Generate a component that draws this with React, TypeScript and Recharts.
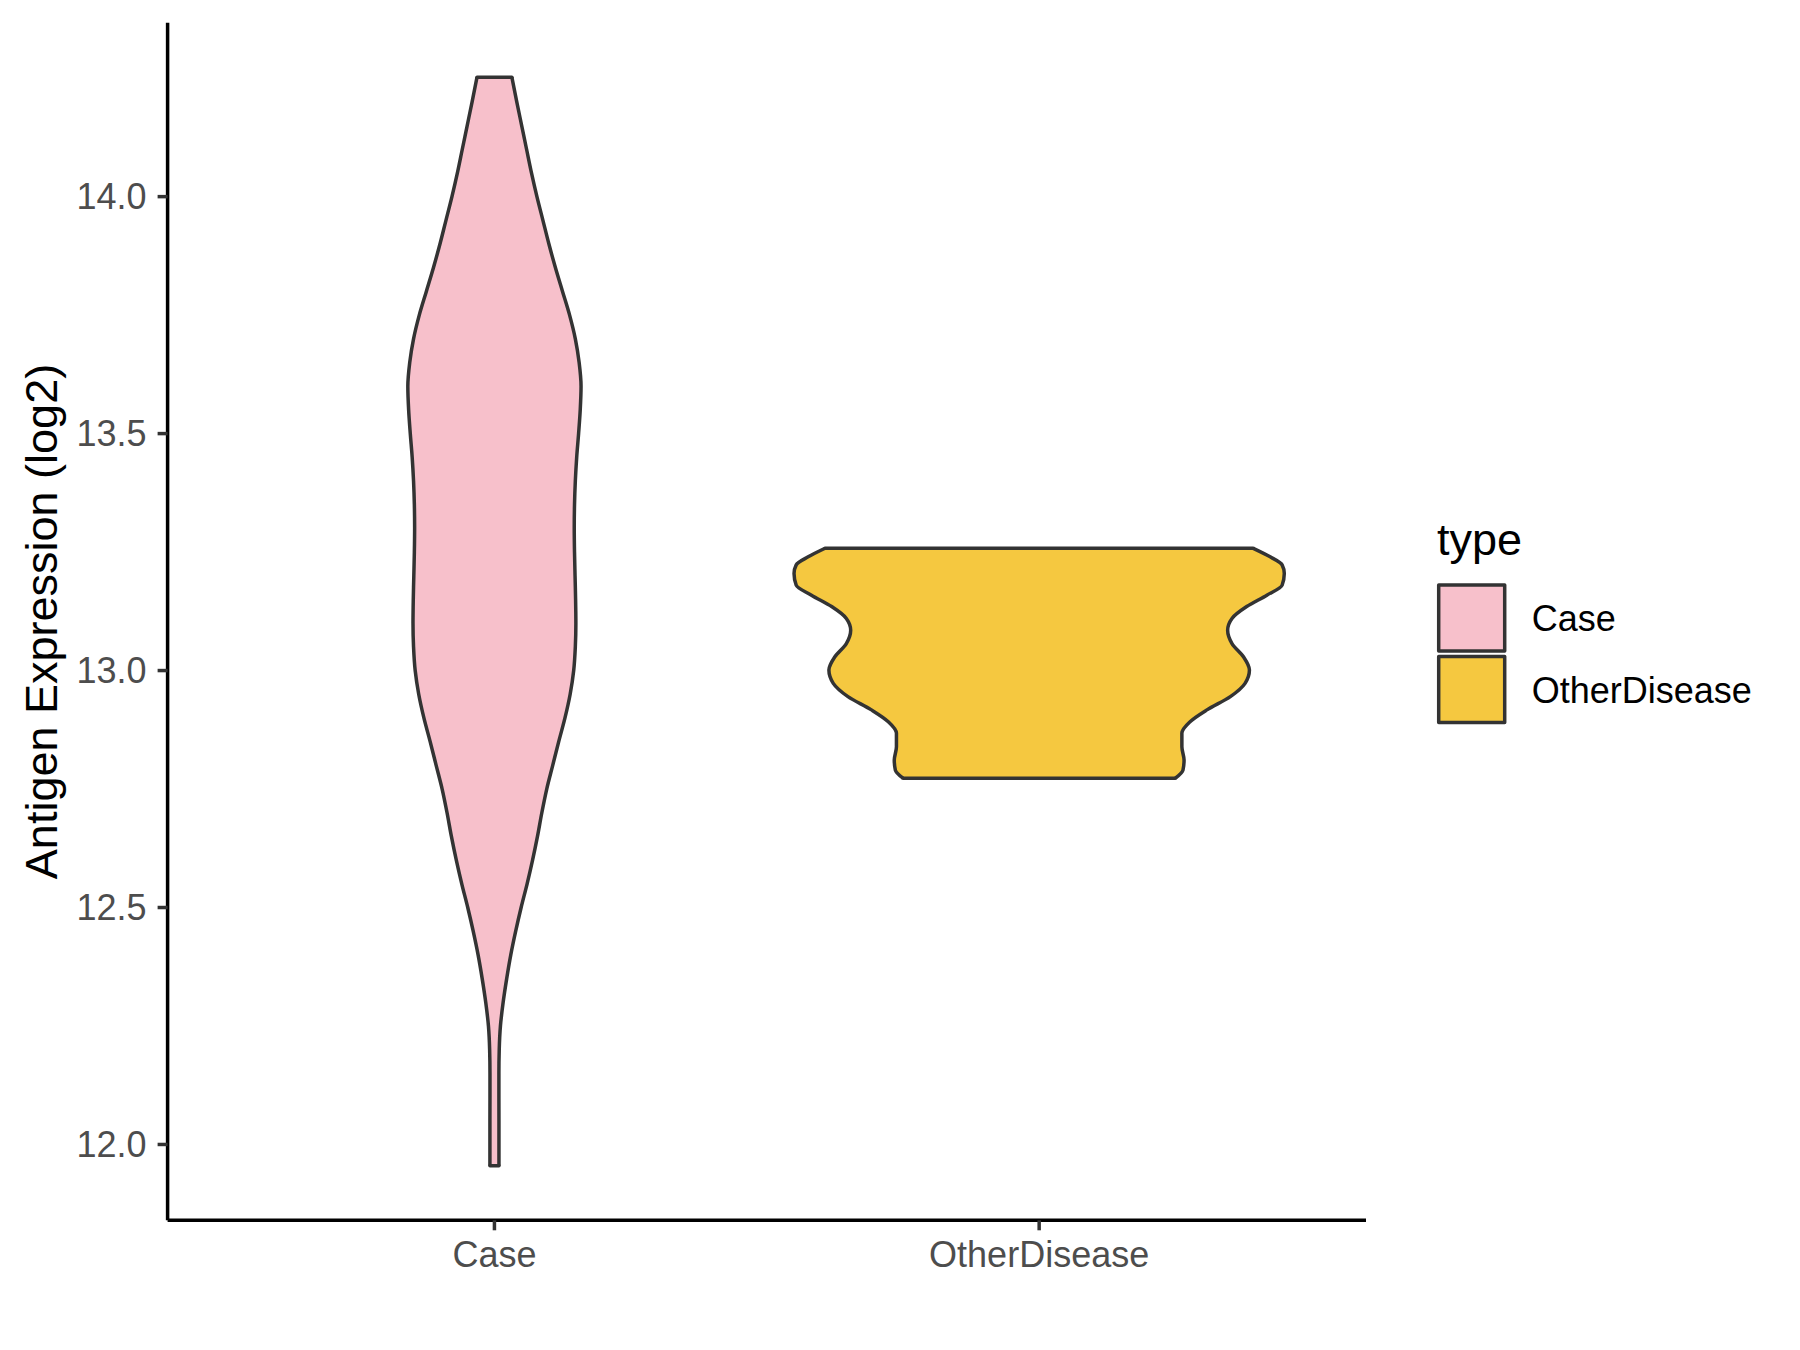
import React from 'react';
import { ComposedChart, Area, XAxis, YAxis, ReferenceLine } from 'recharts';

const FONT = '"Liberation Sans", Arial, Helvetica, sans-serif';

const categories = ['Case', 'OtherDisease'];
const fills = ['#F7C0CB', '#F5C840'];
const outline = '#333333';
const yTicks = [12, 12.5, 13, 13.5, 14];

// violin outlines: expression level -> half width (in x-axis category units)
const caseLevels = [
  11.955, 12.05, 12.1, 12.15, 12.2, 12.25, 12.3, 12.35, 12.4, 12.45, 12.5, 12.55, 12.6, 12.65, 12.7, 12.75,
  12.8, 12.85, 12.9, 12.95, 13.0, 13.05, 13.1, 13.15, 13.2, 13.25, 13.3, 13.35, 13.4, 13.45, 13.5, 13.55,
  13.6, 13.65, 13.7, 13.75, 13.8, 13.85, 13.9, 13.95, 14.0, 14.05, 14.1, 14.15, 14.2, 14.252,
];
const caseHalfWidth = [
  0.0083, 0.0083, 0.0082, 0.0082, 0.0088, 0.011, 0.016, 0.0225, 0.03, 0.039, 0.049, 0.06, 0.07, 0.079, 0.087, 0.096,
  0.107, 0.118, 0.1295, 0.139, 0.1455, 0.1485, 0.1495, 0.149, 0.148, 0.147, 0.1465, 0.147, 0.1485, 0.151, 0.1545, 0.1575,
  0.159, 0.1555, 0.1485, 0.138, 0.125, 0.112, 0.1, 0.089, 0.078, 0.068, 0.059, 0.05, 0.041, 0.032,
];

const otherLevels = [
  12.773, 12.79, 12.811, 12.839, 12.868, 12.892, 12.917, 12.945, 12.973, 13.001, 13.029,
  13.057, 13.085, 13.11, 13.135, 13.159, 13.18, 13.205, 13.223, 13.24, 13.258,
];
const otherHalfWidth = [
  0.25, 0.264, 0.266, 0.262, 0.262, 0.277, 0.308, 0.351, 0.378, 0.386, 0.375,
  0.354, 0.346, 0.354, 0.381, 0.418, 0.446, 0.45, 0.446, 0.424, 0.393,
];

const violins = [
  { key: 'caseBand', pos: 1, levels: caseLevels, half: caseHalfWidth, fill: fills[0] },
  { key: 'otherBand', pos: 2, levels: otherLevels, half: otherHalfWidth, fill: fills[1] },
];

const rows: any[] = [];
violins.forEach((vl) => {
  vl.levels.forEach((v, i) => {
    const row: any = { v };
    violins.forEach((o) => {
      row[o.key] = [null, null];
    });
    row[vl.key] = [vl.pos - vl.half[i], vl.pos + vl.half[i]];
    rows.push(row);
  });
});
rows.sort((a, b) => a.v - b.v);

const tickStyle = { fill: '#4D4D4D', fontSize: 36, fontFamily: FONT };

const LegendBox = () => (
  <svg width={360} height={260} style={{ position: 'absolute', left: 1420, top: 500 }}>
    <text x={17} y={55} fontSize={45} fontFamily={FONT} fill="#000">
      type
    </text>
    {categories.map((c, i) => (
      <g key={c}>
        <rect
          x={18.7}
          y={85 + i * 71.5}
          width={66}
          height={66}
          fill={fills[i]}
          stroke={outline}
          strokeWidth={3.5}
          strokeLinejoin="round"
        />
        <text x={111.7} y={130.5 + i * 72.5} fontSize={36} fontFamily={FONT} fill="#000">
          {c}
        </text>
      </g>
    ))}
  </svg>
);

export default function App() {
  return (
    <div style={{ position: 'absolute', left: 0, top: 0, width: 1800, height: 1350, background: '#fff' }}>
      <ComposedChart
        width={1800}
        height={1350}
        layout="vertical"
        data={rows}
        margin={{ top: 22.7, right: 434, bottom: 0, left: 0 }}
      >
        <XAxis
          type="number"
          domain={[0.4, 2.6]}
          ticks={[1, 2]}
          tickFormatter={(t) => categories[t - 1]}
          allowDataOverflow
          height={129.7}
          axisLine={{ stroke: '#000', strokeWidth: 3.5 }}
          tickLine={{ stroke: outline, strokeWidth: 3.5 }}
          tickSize={10}
          tickMargin={11}
          tick={tickStyle}
        />
        <YAxis
          type="number"
          dataKey="v"
          domain={[11.84, 14.367]}
          ticks={yTicks}
          reversed
          tickFormatter={(t) => t.toFixed(1)}
          allowDataOverflow
          width={167.6}
          axisLine={{ stroke: '#000', strokeWidth: 3.5 }}
          tickLine={{ stroke: outline, strokeWidth: 3.5 }}
          tickSize={10}
          tickMargin={11}
          tick={tickStyle}
          label={{
            value: 'Antigen Expression (log2)',
            angle: -90,
            position: 'insideLeft',
            offset: 41,
            style: { textAnchor: 'middle', fontSize: 45, fill: '#000', fontFamily: FONT },
          }}
        />
        {violins.map((vl) => (
          <Area
            key={vl.key}
            dataKey={vl.key}
            type="monotone"
            fill={vl.fill}
            fillOpacity={1}
            stroke={outline}
            strokeWidth={3.5}
            connectNulls
            dot={false}
            activeDot={false}
            isAnimationActive={false}
          />
        ))}
        {violins.map((vl) =>
          [0, vl.levels.length - 1].map((i) => (
            <ReferenceLine
              key={vl.key + i}
              segment={[
                { x: vl.pos - vl.half[i], y: vl.levels[i] },
                { x: vl.pos + vl.half[i], y: vl.levels[i] },
              ]}
              stroke={outline}
              strokeWidth={3.5}
              strokeLinecap="round"
              ifOverflow="visible"
            />
          ))
        )}
      </ComposedChart>
      <LegendBox />
    </div>
  );
}
